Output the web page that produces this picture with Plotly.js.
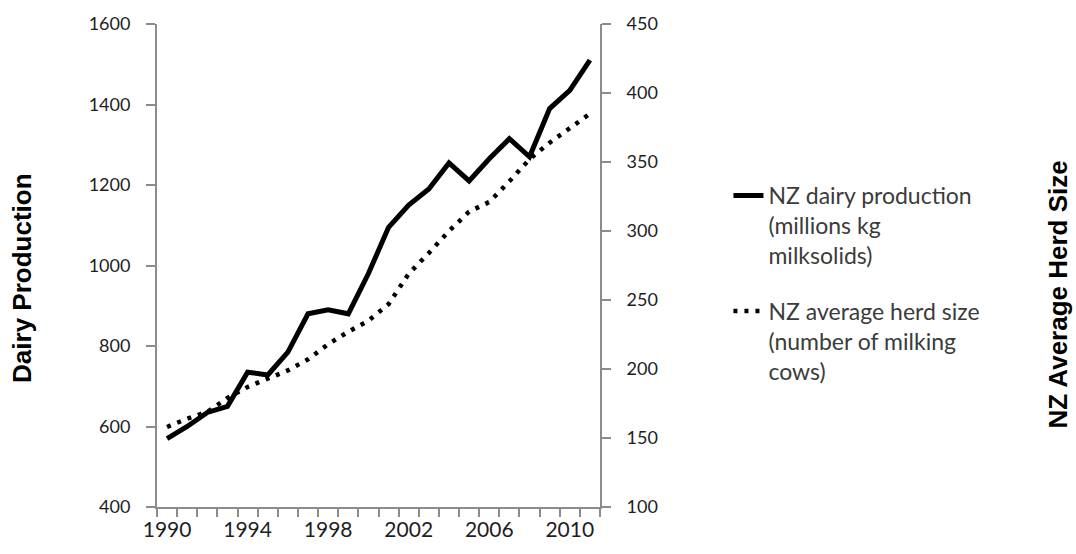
<!DOCTYPE html>
<html>
<head>
<meta charset="utf-8">
<script src="https://cdn.plot.ly/plotly-3.0.1.min.js"></script>
<style>html,body{margin:0;padding:0;background:#fff;}#chart{width:1076px;height:554px;}</style>
</head>
<body>
<div id="chart"></div>
<script>
// Data
const years = [1990, 1991, 1992, 1993, 1994, 1995, 1996, 1997, 1998, 1999, 2000,
               2001, 2002, 2003, 2004, 2005, 2006, 2007, 2008, 2009, 2010, 2011];
const dairyProduction = [570, 600, 635, 650, 735, 728, 785, 880, 890, 880, 980,
                         1095, 1150, 1190, 1255, 1210, 1265, 1315, 1270, 1390, 1435, 1510];
const herdSize = [158, 164, 169, 179, 187, 193, 199, 207, 218, 227, 235,
                  247, 269, 284, 300, 314, 321, 336, 352, 364, 375, 385];
const xTickYears = [1990, 1994, 1998, 2002, 2006, 2010];
const seriesNames = ["NZ dairy production<br>(millions kg<br>milksolids)",
                     "NZ average herd size<br>(number of milking<br>cows)"];
const leftTitle = "Dairy Production";
const rightTitle = "NZ Average Herd Size";

const axisGray = '#8c8c8c';
const tickFont = {family: 'Lato, "Open Sans", sans-serif', size: 18, color: '#1e1e1e'};
const xTickFont = {family: 'Lato, "Open Sans", sans-serif', size: 21, color: '#1e1e1e'};

const traces = [
  {x: years, y: dairyProduction, name: seriesNames[0], type: 'scatter', mode: 'lines',
   yaxis: 'y', legendgroup: 'a',
   line: {color: '#000', width: 5}},
  {x: years, y: herdSize, name: seriesNames[1], type: 'scatter', mode: 'lines',
   yaxis: 'y2', legendgroup: 'b',
   line: {color: '#000', width: 4.5, dash: '4px,7px'}}
];

const layout = {
  width: 1076, height: 554,
  margin: {l: 157, r: 476, t: 24, b: 47},
  paper_bgcolor: '#fff', plot_bgcolor: '#fff',
  showlegend: true,
  legend: {
    xref: 'container', yref: 'container', x: 0.677, y: 0.686,
    xanchor: 'left', yanchor: 'top', valign: 'top',
    font: {family: 'Lato, "Open Sans", sans-serif', size: 23, color: '#3b3b3b'},
    bgcolor: 'rgba(0,0,0,0)', tracegroupgap: 23, traceorder: 'grouped'
  },
  xaxis: {
    range: [1989.5, 2011.5], tickvals: xTickYears, ticktext: xTickYears.map(String),
    ticks: 'outside', ticklen: 3, tickcolor: 'rgba(0,0,0,0)',
    minor: {tick0: 1989.5, dtick: 1, ticks: 'outside', ticklen: 8, tickwidth: 2,
            tickcolor: axisGray, showgrid: false},
    showline: true, linecolor: axisGray, linewidth: 2,
    showgrid: false, zeroline: false, tickfont: xTickFont
  },
  yaxis: {
    range: [400, 1600], tick0: 400, dtick: 200,
    ticks: 'outside', ticklen: 9, tickwidth: 2, tickcolor: axisGray,
    ticklabelstandoff: 12,
    showline: true, linecolor: axisGray, linewidth: 2,
    showgrid: false, zeroline: false, tickfont: tickFont
  },
  yaxis2: {
    overlaying: 'y', side: 'right',
    range: [100, 450], tick0: 100, dtick: 50,
    ticks: 'outside', ticklen: 9, tickwidth: 2, tickcolor: axisGray,
    ticklabelstandoff: 12,
    showline: true, linecolor: axisGray, linewidth: 2,
    showgrid: false, zeroline: false, tickfont: tickFont
  },
  annotations: [
    {text: leftTitle, xref: 'paper', yref: 'paper', x: -0.305, y: 0.474,
     xanchor: 'center', yanchor: 'middle', textangle: -90, showarrow: false,
     font: {family: '"Liberation Sans", Arial, sans-serif', size: 26, color: '#000', weight: 'bold'}},
    {text: rightTitle, xref: 'paper', yref: 'paper', x: 2.034, y: 0.44,
     xanchor: 'center', yanchor: 'middle', textangle: -90, showarrow: false,
     font: {family: '"Liberation Sans", Arial, sans-serif', size: 26, color: '#000', weight: 'bold'}}
  ]
};

Plotly.newPlot('chart', traces, layout, {displayModeBar: false, staticPlot: true});
</script>
</body>
</html>
